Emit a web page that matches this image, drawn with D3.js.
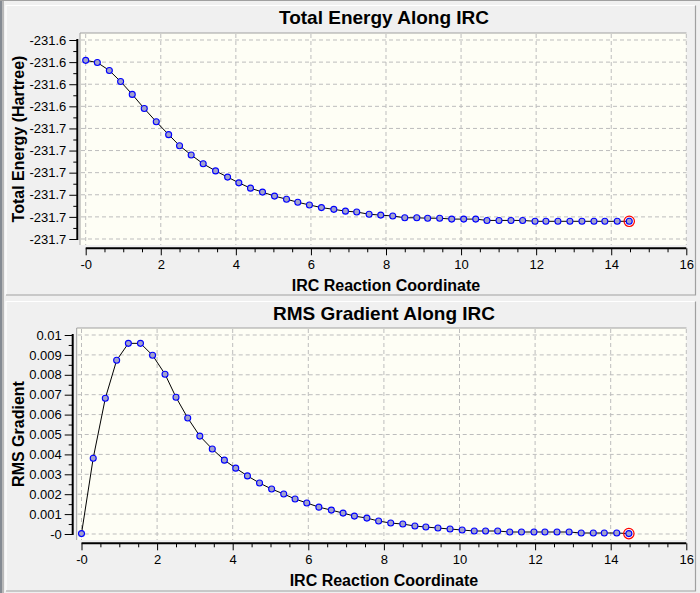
<!DOCTYPE html>
<html>
<head>
<meta charset="utf-8">
<script src="https://cdn.jsdelivr.net/npm/d3@7/dist/d3.min.js"></script>
<style>
  body { margin: 0; background: #f0f0f0; }
  svg { display: block; font-family: "Liberation Sans", Arial, sans-serif; }
  .tick text { font-size: 13px; fill: #000; }
</style>
</head>
<body>
<div id="chart"></div>
<script>
// IRC data
var ircCoord = [0.00, 0.31, 0.63, 0.93, 1.24, 1.56, 1.88, 2.21, 2.50, 2.81,
  3.13, 3.46, 3.78, 4.08, 4.39, 4.71, 5.03, 5.35, 5.65, 5.96,
  6.28, 6.61, 6.92, 7.22, 7.55, 7.86, 8.18, 8.50, 8.82, 9.11,
  9.43, 9.75, 10.07, 10.39, 10.69, 11.01, 11.33, 11.64, 11.97, 12.26,
  12.58, 12.90, 13.22, 13.54, 13.83, 14.16, 14.48];

var totalEnergy = [-231.6346, -231.6351, -231.6369, -231.6394, -231.6423, -231.6455, -231.6485, -231.6514, -231.6539, -231.6560,
  -231.6580, -231.6596, -231.6610, -231.6623, -231.6635, -231.6644, -231.6653, -231.6660, -231.6667, -231.6673,
  -231.6679, -231.6683, -231.6687, -231.6689, -231.6694, -231.6696, -231.6698, -231.6702, -231.6702, -231.6703,
  -231.6703, -231.6705, -231.6705, -231.6705, -231.6708, -231.6708, -231.6708, -231.6708, -231.6710, -231.6710,
  -231.6710, -231.6710, -231.6710, -231.6710, -231.6710, -231.6710, -231.6710];

var rmsGradient = [0.00002, 0.00381, 0.00682, 0.00873, 0.00958, 0.00958, 0.00898, 0.00803, 0.00687, 0.00583,
  0.00492, 0.00427, 0.00371, 0.00331, 0.00292, 0.00256, 0.00226, 0.00201, 0.00176, 0.00156,
  0.00135, 0.00120, 0.00105, 0.00090, 0.00080, 0.00065, 0.00055, 0.00050, 0.00040, 0.00035,
  0.00030, 0.00025, 0.00020, 0.00015, 0.00015, 0.00015, 0.00010, 0.00010, 0.00010, 0.00010,
  0.00010, 0.00010, 0.00005, 0.00005, 0.00005, 0.00005, 0.00002];

// tick values and their labels
var xTicks = [0, 2, 4, 6, 8, 10, 12, 14, 16];
var xTickLabels = ["-0", "2", "4", "6", "8", "10", "12", "14", "16"];
var energyTicks = [-231.630, -231.635, -231.640, -231.645, -231.650,
  -231.655, -231.660, -231.665, -231.670, -231.675];
var energyTickLabels = ["-231.6", "-231.6", "-231.6", "-231.6", "-231.7",
  "-231.7", "-231.7", "-231.7", "-231.7", "-231.7"];
var gradientTicks = [0, 0.001, 0.002, 0.003, 0.004, 0.005, 0.006, 0.007, 0.008, 0.009, 0.01];
var gradientTickLabels = ["-0", "0.001", "0.002", "0.003", "0.004", "0.005",
  "0.006", "0.007", "0.008", "0.009", "0.01"];

var svgWidth = 700;
var svgHeight = 593;

var svg = d3.select("#chart")
  .append("svg")
  .attr("width", svgWidth)
  .attr("height", svgHeight);

// window background + left edge
svg.append("rect").attr("width", svgWidth).attr("height", svgHeight).attr("fill", "#f0f0f0");
svg.append("rect").attr("x", 0).attr("y", 0).attr("width", 2).attr("height", svgHeight).attr("fill", "#858b93");
svg.append("rect").attr("x", 2).attr("y", 0).attr("width", 2).attr("height", svgHeight).attr("fill", "#b9b9b9");
svg.append("rect").attr("x", 0).attr("y", 0).attr("width", svgWidth).attr("height", 1).attr("fill", "#a0a0a0");

// sunken frame round each panel
function drawFrame(y0, y1) {
  var x0 = 6, x1 = 695.5;
  svg.append("path").attr("d", `M${x0},${y1} V${y0} H${x1}`)
    .attr("fill", "none").attr("stroke", "#ffffff").attr("stroke-width", 1.2);
  svg.append("path").attr("d", `M${x0},${y1} H${x1} V${y0}`)
    .attr("fill", "none").attr("stroke", "#a0a0a0").attr("stroke-width", 1.2);
}
drawFrame(5.5, 295);
drawFrame(301.5, 591);

function drawPanel(opts) {
  var g = svg.append("g").attr("transform", `translate(0, ${opts.offset})`);

  var plotTop = 33, plotBottom = 245;
  var xScale = d3.scaleLinear().domain([0, 16]).range([opts.x0, 686.3]);
  var yScale = d3.scaleLinear()
    .domain([opts.yTicks[0], opts.yTicks[opts.yTicks.length - 1]])
    .range([239, 40]);

  // plot area
  g.append("rect")
    .attr("x", opts.plotLeft).attr("y", plotTop)
    .attr("width", 686.5 - opts.plotLeft).attr("height", plotBottom - plotTop)
    .attr("fill", "#fefef5");
  g.append("path")
    .attr("d", `M${opts.plotLeft},${plotBottom} V${plotTop} H686.5`)
    .attr("fill", "none").attr("stroke", "#a0a0a0").attr("stroke-width", 1);

  // dashed grid
  g.append("g").selectAll("line")
    .data(xTicks)
    .enter().append("line")
    .attr("x1", d => xScale(d)).attr("x2", d => xScale(d))
    .attr("y1", plotTop + 1).attr("y2", plotBottom)
    .attr("stroke", "#bdbdbd").attr("stroke-dasharray", "4,3");
  g.append("g").selectAll("line")
    .data(opts.yTicks)
    .enter().append("line")
    .attr("x1", opts.plotLeft + 1).attr("x2", 686.5)
    .attr("y1", d => yScale(d)).attr("y2", d => yScale(d))
    .attr("stroke", "#bdbdbd").attr("stroke-dasharray", "4,3");

  // x axis (major + minor)
  var xAxisY = 248.3;
  var xMinor = d3.range(0, 16.01, 0.5).filter(d => d % 2 !== 0);
  var bottomAxis = d3.axisBottom(xScale)
    .tickValues(xTicks)
    .tickFormat((d, i) => xTickLabels[i])
    .tickSize(7).tickSizeOuter(0).tickPadding(4);
  var xAxis = g.append("g")
    .attr("transform", `translate(0, ${xAxisY})`)
    .call(bottomAxis);
  g.append("g")
    .attr("transform", `translate(0, ${xAxisY})`)
    .call(d3.axisBottom(xScale).tickValues(xMinor).tickFormat("").tickSize(4).tickSizeOuter(0));

  // y axis (major + minor)
  var yMinor = opts.yTicks.slice(1).map((d, i) => (d + opts.yTicks[i]) / 2);
  var leftAxis = d3.axisLeft(yScale)
    .tickValues(opts.yTicks)
    .tickFormat((d, i) => opts.yLabels[i])
    .tickSize(8).tickSizeOuter(0).tickPadding(3);
  g.append("g")
    .attr("transform", `translate(${opts.axisX}, 0)`)
    .call(leftAxis);
  g.append("g")
    .attr("transform", `translate(${opts.axisX}, 0)`)
    .call(d3.axisLeft(yScale).tickValues(yMinor).tickFormat("").tickSize(4).tickSizeOuter(0));

  g.selectAll(".domain").remove();
  g.selectAll(".tick line").attr("stroke", "#000");

  // axis lines only over the tick range
  g.append("line")
    .attr("x1", xScale(0)).attr("x2", xScale(16))
    .attr("y1", xAxisY).attr("y2", xAxisY)
    .attr("stroke", "#000").attr("stroke-width", 2);
  g.append("line")
    .attr("x1", opts.axisX).attr("x2", opts.axisX)
    .attr("y1", yScale.range()[0] + 1).attr("y2", yScale.range()[1] - 1)
    .attr("stroke", "#000").attr("stroke-width", 2);

  // titles
  g.append("text")
    .attr("x", 384).attr("y", opts.titleY)
    .attr("text-anchor", "middle")
    .style("font-size", "19px").style("font-weight", "bold")
    .text(opts.title);
  g.append("text")
    .attr("x", (xScale(0) + xScale(16)) / 2).attr("y", 290.7)
    .attr("text-anchor", "middle")
    .style("font-size", "16px").style("font-weight", "bold")
    .text("IRC Reaction Coordinate");
  g.append("text")
    .attr("transform", `translate(18, ${(plotTop + plotBottom) / 2}) rotate(-90)`)
    .attr("text-anchor", "middle")
    .attr("dominant-baseline", "central")
    .style("font-size", "16px").style("font-weight", "bold")
    .text(opts.yTitle);

  // curve and markers
  var points = ircCoord.map((x, i) => ({x: x, y: opts.values[i]}));
  var line = d3.line()
    .x(d => xScale(d.x))
    .y(d => yScale(d.y));
  g.append("path")
    .datum(points)
    .attr("d", line)
    .attr("fill", "none")
    .attr("stroke", "#000")
    .attr("stroke-width", 1);

  g.append("g").selectAll("circle")
    .data(points)
    .enter().append("circle")
    .attr("cx", d => xScale(d.x))
    .attr("cy", d => yScale(d.y))
    .attr("r", 3)
    .attr("fill", "#a2a2cc")
    .attr("stroke", "#0000ff")
    .attr("stroke-width", 1.1);

  // current point highlighted in red
  var last = points[points.length - 1];
  g.append("circle")
    .attr("cx", xScale(last.x))
    .attr("cy", yScale(last.y))
    .attr("r", 5.2)
    .attr("fill", "none")
    .attr("stroke", "#ff0000")
    .attr("stroke-width", 1.2);
}

drawPanel({
  offset: 0,
  title: "Total Energy Along IRC",
  titleY: 23.5,
  yTitle: "Total Energy (Hartree)",
  values: totalEnergy,
  yTicks: energyTicks.slice().reverse(),
  yLabels: energyTickLabels.slice().reverse(),
  plotLeft: 80,
  axisX: 77.3,
  x0: 85.7
});

drawPanel({
  offset: 295,
  title: "RMS Gradient Along IRC",
  titleY: 25,
  yTitle: "RMS Gradient",
  values: rmsGradient,
  yTicks: gradientTicks,
  yLabels: gradientTickLabels,
  plotLeft: 76.7,
  axisX: 72.7,
  x0: 81.5
});
</script>
</body>
</html>
